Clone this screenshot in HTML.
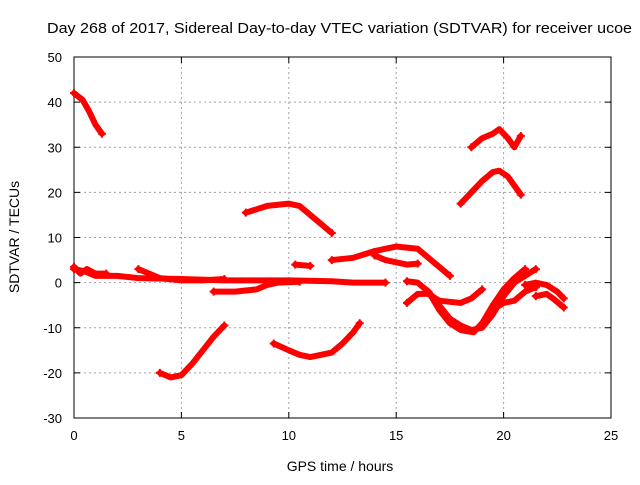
<!DOCTYPE html>
<html><head><meta charset="utf-8"><style>
body{margin:0;background:#fff;}
svg{font-family:"Liberation Sans",sans-serif;}
</style></head><body>
<svg id="chart" width="640" height="480" viewBox="0 0 640 480">
<rect width="640" height="480" fill="#fff"/>
<text x="47" y="33" textLength="585" lengthAdjust="spacingAndGlyphs" font-size="15">Day 268 of 2017, Sidereal Day-to-day VTEC variation (SDTVAR) for receiver ucoe</text>
<g id="grid"></g><g id="axes"></g><g id="series"></g>
<text x="340" y="471" text-anchor="middle" font-size="14">GPS time / hours</text>
<text transform="translate(19,237) rotate(-90)" text-anchor="middle" font-size="14">SDTVAR / TECUs</text>
</svg>
<script>
const xTicks=[0,5,10,15,20,25];
const yTicks=[-30,-20,-10,0,10,20,30,40,50];
const trackA=[[0,42],[0.4,40.5],[0.7,38],[1,35],[1.3,33]];
const trackB=[[0,3],[0.5,2.5],[1,1.5],[2,1.5],[3,1],[5,0.8],[7,0.5],[9,0.5],[10,0.5],[12,0.3],[13,0],[14.5,0]];
const trackB2=[[0,3.5],[0.3,2],[0.6,3],[1,2],[1.5,2]];
const trackC=[[3,3],[3.5,2],[4,1],[5,0.5],[6,0.5],[7,0.8]];
const trackD=[[6.5,-2],[7.5,-2],[8.5,-1.5],[9,-0.5],[9.5,0],[10.5,0.2]];
const trackE=[[8,15.5],[9,17],[10,17.5],[10.5,17],[11,15],[11.5,13],[12,11]];
const trackF=[[10.3,4],[11,3.7]];
const trackG=[[4,-20],[4.5,-21],[5,-20.5],[5.5,-18],[6,-15],[6.5,-12],[7,-9.5]];
const trackH=[[9.3,-13.5],[10,-15],[10.5,-16],[11,-16.5],[12,-15.5],[12.5,-13.5],[13,-11],[13.3,-9]];
const trackI=[[12,5],[13,5.5],[14,7],[15,8],[16,7.5],[16.5,5.5],[17,3.5],[17.5,1.5]];
const trackJ=[[14,6],[14.5,5],[15,4.5],[15.5,4],[16,4.2]];
const trackK=[[15.5,0.3],[16,0],[16.5,-2],[17,-5],[17.5,-8],[18,-9.5],[18.5,-10.5],[19,-10],[19.5,-7],[20,-3],[20.5,0],[21,1.5],[21.5,3]];
const trackL=[[15.5,-4.5],[16,-2.5],[16.5,-2.5],[17,-4],[18,-4.5],[18.5,-3.5],[19,-1.5]];
const trackM=[[16.5,-2],[17,-6],[17.5,-9],[18,-10.5],[18.6,-11],[19,-9],[19.5,-5],[20,-1.5],[20.5,1],[21,3]];
const trackN=[[19.5,-6],[20,-4.5],[20.5,-4],[21,-2],[21.5,-1]];
const trackO=[[21,-0.5],[21.5,0],[22,-0.5],[22.5,-2],[22.8,-3.5]];
const trackP=[[21.5,-3],[22,-2.5],[22.3,-3.5],[22.8,-5.5]];
const trackQ=[[18,17.5],[18.5,20],[19,22.5],[19.5,24.5],[19.8,24.8],[20.2,23.5],[20.5,21.5],[20.8,19.5]];
const trackR=[[18.5,30],[19,32],[19.5,33],[19.8,34],[20.2,32],[20.5,30],[20.8,32.5]];
const tracks=[trackA,trackB,trackB2,trackC,trackD,trackE,trackF,trackG,trackH,trackI,trackJ,trackK,trackL,trackM,trackN,trackO,trackP,trackQ,trackR];

const X0=74,X1=611,Y0=418,Y1=57;
function sx(h){return X0+(h-0)/(25-0)*(X1-X0);}
function sy(v){return Y0-(v+30)/(80)*(Y0-Y1);}
const NS="http://www.w3.org/2000/svg";
function mk(tag,attrs,parent){const e=document.createElementNS(NS,tag);for(const k in attrs)e.setAttribute(k,attrs[k]);parent.appendChild(e);return e;}
const grid=document.getElementById('grid'),axes=document.getElementById('axes'),ser=document.getElementById('series');
xTicks.forEach(t=>{
  const x=sx(t);
  if(t>0&&t<25){const g=mk('line',{x1:x,x2:x,y1:Y1,y2:Y0,stroke:'#a0a0a0','stroke-dasharray':'2,3'},grid);
  
  }
  mk('line',{x1:x,x2:x,y1:Y0,y2:Y0-6,stroke:'#000'},axes);
  mk('line',{x1:x,x2:x,y1:Y1,y2:Y1+6,stroke:'#000'},axes);
  const tx=mk('text',{x:x,y:Y0+22,'text-anchor':'middle','font-size':13},axes);
  tx.textContent=t;
  
  
});
yTicks.forEach(t=>{
  const y=sy(t);
  if(t>-30&&t<50){const g=mk('line',{x1:X0,x2:X1,y1:y,y2:y,stroke:'#a0a0a0','stroke-dasharray':'2,3'},grid);
  
  }
  mk('line',{x1:X0,x2:X0+6,y1:y,y2:y,stroke:'#000'},axes);
  mk('line',{x1:X1,x2:X1-6,y1:y,y2:y,stroke:'#000'},axes);
  const tx=mk('text',{x:X0-12,y:y+5,'text-anchor':'end','font-size':13},axes);
  tx.textContent=t;
  
  
});
const fr=mk('rect',{x:X0,y:Y1,width:X1-X0,height:Y0-Y1,fill:'none',stroke:'#000'},axes);


tracks.forEach(tr=>{
  const p=mk('polyline',{points:tr.map(d=>sx(d[0])+','+sy(d[1])).join(' '),fill:'none',stroke:'#ff0000','stroke-width':6,'stroke-linejoin':'round','stroke-linecap':'round'},ser);
  
  
  [tr[0],tr[tr.length-1]].forEach(d=>{
    const m=mk('path',{d:`M${sx(d[0])-4},${sy(d[1])}h8M${sx(d[0])},${sy(d[1])-4}v8`,stroke:'#ff0000','stroke-width':2},ser);
    
    
  });
});
</script>
</body></html>
